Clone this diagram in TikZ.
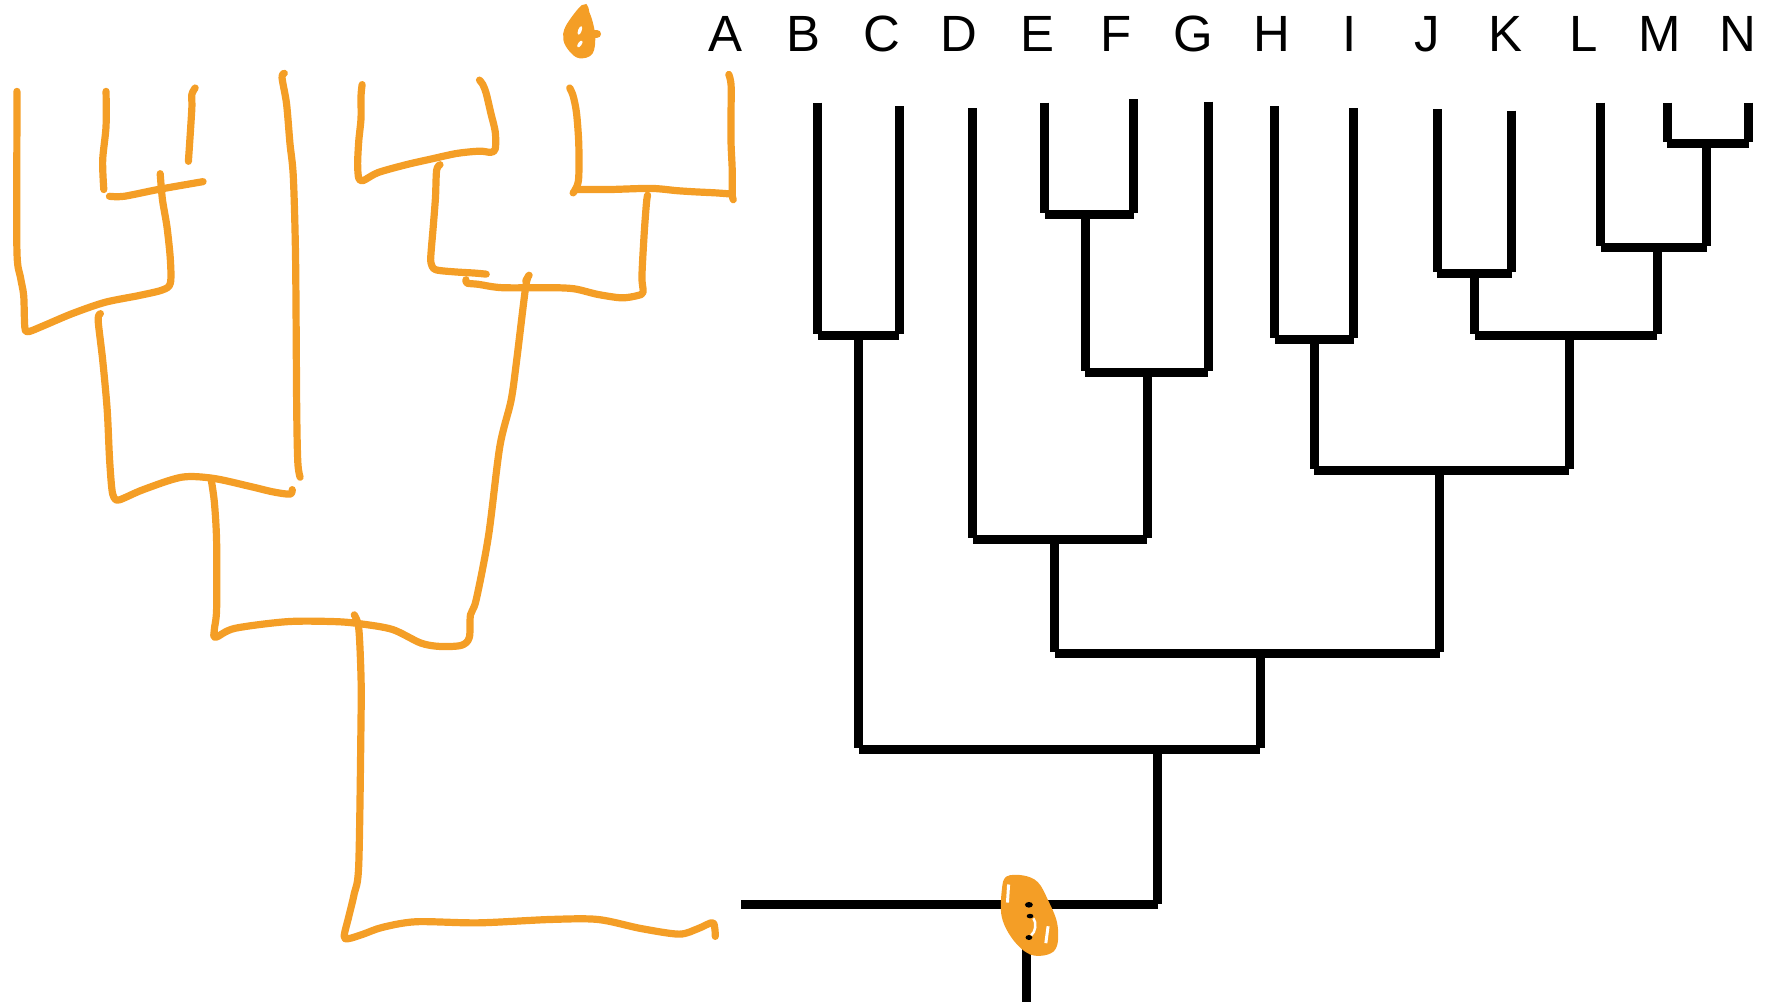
\documentclass[tikz,border=0pt]{standalone}
\usepackage{fontspec}
\setmainfont{Liberation Sans}
\definecolor{penc}{RGB}{244,158,38}
\newcommand\mycherry[5]{%
  \draw[blk] (#1,#2) -- (#1,#5);
  \draw[blk] (#3,#4) -- (#3,#5);
  \draw[blk] (#1,#5+1) -- (#3,#5+1);}
\begin{document}
\begin{tikzpicture}[x=0.11282mm,y=-0.11282mm,
  blk/.style={line width=0.9mm, black, line cap=butt},
  pen/.style={line width=0.72mm, draw=penc, line cap=round, line join=round},
  lbl/.style={font=\fontsize{14.5}{16}\selectfont, anchor=base, inner sep=0pt}]
\useasboundingbox (0,0) rectangle (1568,891);

% ---- letters ----
\foreach \l/\x in {A/643,B/712,C/782,D/850,E/920,F/989,G/1058,H/1127,I/1196,J/1265,K/1334,L/1404,M/1471,N/1540}
  \node[lbl] (l\l) at (\x,46) {\l};

% ---- black tree ----
\mycherry{725}{91}{797}{94}{296}
\mycherry{926}{91}{1005}{88}{189}
\mycherry{962}{190}{1071}{90}{329}
\mycherry{862}{96}{1017}{330}{477}
\mycherry{1130}{94}{1200}{96}{300}
\mycherry{1274}{97}{1340}{98}{241}
\mycherry{1478}{91}{1550}{91}{126}
\mycherry{1419}{91}{1513}{127}{218}
\mycherry{1307}{242}{1469}{219}{296}
\mycherry{1165}{301}{1391}{297}{416}
\mycherry{935}{478}{1276}{417}{578}
\mycherry{761}{297}{1117}{579}{663}
\draw[blk] (1026,664) -- (1026,801);
\draw[blk] (657,802) -- (1026,802);
\draw[blk] (910,802) -- (910,888);

% ---- orange hand-drawn tree ----
\draw[pen] plot[smooth,tension=0.5] coordinates {(15,81) (15,110) (15,222) (18,245) (21,262) (22,290) (25,294) (38,289) (64,278) (93,268) (123,262) (144,257) (151,251) (151,230) (148,201) (144,177) (142,154)};
\draw[pen] plot[smooth,tension=0.5] coordinates {(94,81) (94,112) (91,142) (92,168)};
\draw[pen] plot[smooth,tension=0.5] coordinates {(97,174) (110,174) (140,168) (180,161)};
\draw[pen] plot[smooth,tension=0.5] coordinates {(173,78) (170,84) (170,97) (167,143)};
\draw[pen] plot[smooth,tension=0.5] coordinates {(89,278) (87,284) (91,319) (95,363) (97,405) (99,432) (101,441) (106,443) (127,434) (161,423) (189,424) (221,431) (242,436) (257,438) (259,434)};
\draw[pen] plot[smooth,tension=0.5] coordinates {(252,65) (250,69) (254,92) (257,127) (260,157) (262,230) (263,363) (264,410) (266,423)};
\draw[pen] plot[smooth,tension=0.5] coordinates {(187,424) (190,445) (192,480) (192,540) (190,558) (191,565) (208,557) (255,551) (297,551) (320,553) (348,558) (373,570) (390,573) (409,572) (416,565) (417,545) (422,532) (433,475) (443,396) (453,355) (458,319) (466,254) (469,244) (466,249)};
\draw[pen] plot[smooth,tension=0.5] coordinates {(314,545) (318,557) (320,600) (320,639) (318,766) (314,792) (309,813) (305,830) (309,832) (322,828) (339,822) (369,817) (424,818) (488,815) (530,815) (568,823) (602,828) (619,823) (632,818) (634,830)};
\draw[pen] plot[smooth,tension=0.5] coordinates {(321,75) (320,85) (320,105) (318,125) (317,145) (318,158) (322,160) (335,153) (360,146) (382,141) (405,136) (425,134) (435,135) (439,132) (439,117) (435,100) (431,83) (428,75) (425,71)};
\draw[pen] plot[smooth,tension=0.5] coordinates {(390,146) (387,151) (386,175) (384,201) (382,225) (382,233) (386,239) (403,241) (420,242) (431,243)};
\draw[pen] plot[smooth,tension=0.5] coordinates {(413,248) (414,251) (424,252) (445,255) (488,255) (509,256) (530,261) (551,264) (565,262) (570,259) (569,245) (571,207) (573,180) (574,173)};
\draw[pen] plot[smooth,tension=0.5] coordinates {(505,78) (508,85) (511,100) (513,127) (513,157) (511,166) (508,171)};
\draw[pen] plot[smooth,tension=0.5] coordinates {(510,168) (540,168) (577,167) (600,169) (615,170) (635,171) (648,172)};
\draw[pen] plot[smooth,tension=0.5] coordinates {(646,66) (648,75) (648,100) (648,127) (649,150) (649,172) (650,177)};

% ---- top scribble ----
\fill[penc, draw=penc, line width=0.6mm] plot[smooth cycle,tension=0.6] coordinates {(517,7) (504,24) (502,35) (507,44) (514,49) (523,46) (525,33) (523,21) (520,12)};
\draw[pen, line width=0.85mm] (519,30) -- (529,30);
\fill[white, rotate around={-20:(514,27)}] (514,27) ellipse (1.6 and 4);
\fill[white, rotate around={-35:(514,39)}] (514,39) ellipse (1.6 and 3.5);

% ---- bottom blob ----
\fill[penc] plot[smooth cycle,tension=0.6] coordinates {(892,777) (907,776) (920,782) (929,798) (937,818) (937,838) (929,846) (913,846) (898,833) (888,813) (888,789)};
\draw[white, line width=0.3mm] (894,784) -- (893,800);
\draw[white, line width=0.3mm] (929,821) -- (927,836);
\fill[black] (912,802) ellipse (3.5 and 2.5);
\fill[black] (913,812) ellipse (3 and 2);
\fill[black] (912,831) ellipse (3 and 2.2);
\draw[white, line width=0.25mm] (916,814) .. controls (919,818) and (918,826) .. (914,829);
\end{tikzpicture}
\end{document}
